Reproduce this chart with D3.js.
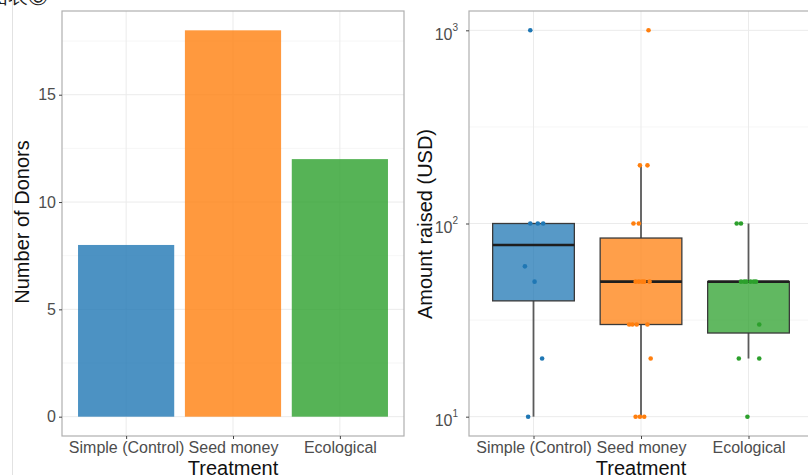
<html>
<head>
<meta charset="utf-8">
<script src="https://cdn.jsdelivr.net/npm/d3@7"></script>
<style>
  body { margin: 0; background: #fff; }
  text { font-family: "Liberation Sans", Arial, sans-serif; }
</style>
</head>
<body>
<script>
// categories + counts (left panel)
var treatments = ["Simple (Control)", "Seed money", "Ecological"];
var donors = [8, 18, 12];
var colors = ["#1f77b4", "#ff7f0e", "#2ca02c"];
var countTicks = [0, 5, 10, 15];
var countMinor = [2.5, 7.5, 12.5, 17.5];

// amounts raised per donor (right panel)
var amountSimple = [1000, 100, 100, 100, 60, 50, 20, 10];
var amountSeed = [1000, 200, 200, 100, 100, 50, 50, 50, 50, 50, 30, 30, 30, 30, 20, 10, 10, 10];
var amountEco = [100, 100, 50, 50, 50, 50, 50, 50, 30, 20, 20, 10];
// horizontal jitter of each dot, in fractions of a category step
var jitterSimple = [-0.03, -0.03, 0.04, 0.09, -0.08, 0.01, 0.08, -0.05];
var jitterSeed = [0.07, -0.01, 0.06, -0.07, -0.02, -0.05, -0.02, 0.08, 0.03, 0.01, -0.11, -0.08, -0.04, 0.06, 0.09, -0.05, -0.01, 0.03];
var jitterEco = [-0.11, -0.07, -0.07, -0.04, -0.02, 0.02, 0.05, 0.07, 0.10, -0.09, 0.10, -0.01];
var amountTicks = [10, 100, 1000];
var amountMinor = [Math.pow(10, 1.5), Math.pow(10, 2.5)];

var width = 808, height = 475;
var svg = d3.select("body").append("svg")
    .attr("width", width)
    .attr("height", height);

// screenshot leftovers: caption tail and page edge
svg.append("text").attr("x", -12).attr("y", 3).attr("font-size", 20)
    .attr("font-family", "Noto Sans CJK SC").attr("fill", "#222").text("图表⑥");
svg.append("line").attr("x1", 12.5).attr("x2", 12.5).attr("y1", 0).attr("y2", height)
    .attr("stroke", "#e2e2e2");

var gridCol = "#ebebeb", minorCol = "#f4f4f4", borderCol = "#b0b0b0", tickTxt = "#4d4d4d";
var pTop = 11, pBottom = 436;
var tickSize = 16, titleSize = 20;

// ---------- left: bar chart ----------
var lx = d3.scalePoint().domain(treatments).range([62, 404]).padding(0.6);
var ly = d3.scaleLinear().domain([-0.9, 18.9]).range([pBottom, pTop]);
var lstep = lx.step();

var gl = svg.append("g");
gl.selectAll(".minor").data(countMinor).enter().append("line")
    .attr("x1", 62).attr("x2", 404).attr("y1", d => ly(d)).attr("y2", d => ly(d))
    .attr("stroke", minorCol).attr("stroke-width", 0.8);
gl.selectAll(".major").data(countTicks).enter().append("line")
    .attr("x1", 62).attr("x2", 404).attr("y1", d => ly(d)).attr("y2", d => ly(d))
    .attr("stroke", gridCol).attr("stroke-width", 1);
gl.selectAll(".vgrid").data(treatments).enter().append("line")
    .attr("x1", d => lx(d)).attr("x2", d => lx(d)).attr("y1", pTop).attr("y2", pBottom)
    .attr("stroke", gridCol).attr("stroke-width", 1);

gl.selectAll("rect.bar").data(treatments).enter().append("rect")
    .attr("x", d => lx(d) - lstep * 0.45)
    .attr("width", lstep * 0.9)
    .attr("y", (d, i) => ly(donors[i]))
    .attr("height", (d, i) => ly(0) - ly(donors[i]))
    .attr("fill", (d, i) => colors[i])
    .attr("fill-opacity", 0.8);

gl.append("rect").attr("x", 62).attr("y", pTop).attr("width", 342).attr("height", pBottom - pTop)
    .attr("fill", "none").attr("stroke", borderCol).attr("stroke-width", 1.2);

var lyAxis = gl.append("g").attr("transform", "translate(62,0)")
    .call(d3.axisLeft(ly).tickValues(countTicks).tickSize(3).tickPadding(3));
var lxAxis = gl.append("g").attr("transform", "translate(0," + pBottom + ")")
    .call(d3.axisBottom(lx).tickSize(3).tickPadding(3));
[lyAxis, lxAxis].forEach(function (a) {
    a.select(".domain").remove();
    a.selectAll("line").attr("stroke", "#444");
    a.selectAll("text").attr("font-size", tickSize).attr("fill", tickTxt)
        .attr("font-family", "Liberation Sans, Arial, sans-serif");
});

gl.append("text").attr("transform", "translate(29,222) rotate(-90)")
    .attr("text-anchor", "middle").attr("font-size", titleSize).attr("fill", "#111")
    .text("Number of Donors");
gl.append("text").attr("x", 233).attr("y", 475).attr("text-anchor", "middle")
    .attr("font-size", titleSize).attr("fill", "#111").text("Treatment");

// ---------- right: box plot, log scale ----------
var rx = d3.scalePoint().domain(treatments).range([469, 813]).padding(0.6);
var ry = d3.scaleLog().domain([Math.pow(10, 0.9), Math.pow(10, 3.1)]).range([pBottom, pTop]);
var rstep = rx.step();
var amounts = [amountSimple, amountSeed, amountEco];
var jitters = [jitterSimple, jitterSeed, jitterEco];

var gr = svg.append("g");
gr.selectAll(".minor").data(amountMinor).enter().append("line")
    .attr("x1", 469).attr("x2", width).attr("y1", d => ry(d)).attr("y2", d => ry(d))
    .attr("stroke", minorCol).attr("stroke-width", 0.8);
gr.selectAll(".major").data(amountTicks).enter().append("line")
    .attr("x1", 469).attr("x2", width).attr("y1", d => ry(d)).attr("y2", d => ry(d))
    .attr("stroke", gridCol).attr("stroke-width", 1);
gr.selectAll(".vgrid").data(treatments).enter().append("line")
    .attr("x1", d => rx(d)).attr("x2", d => rx(d)).attr("y1", pTop).attr("y2", pBottom)
    .attr("stroke", gridCol).attr("stroke-width", 1);

// boxplot stats on log10 values, like ggplot with a log scale
var stats = amounts.map(function (vals) {
    var lg = vals.map(v => Math.log10(v)).sort(d3.ascending);
    var q1 = d3.quantile(lg, 0.25), med = d3.quantile(lg, 0.5), q3 = d3.quantile(lg, 0.75);
    var iqr = q3 - q1;
    var lo = d3.min(lg.filter(v => v >= q1 - 1.5 * iqr));
    var hi = d3.max(lg.filter(v => v <= q3 + 1.5 * iqr));
    var p = v => Math.pow(10, v);
    return { q1: p(q1), med: p(med), q3: p(q3), lo: p(lo), hi: p(hi) };
});

var boxW = rstep * 0.76;
var boxes = gr.selectAll("g.box").data(treatments).enter().append("g");
boxes.append("line")
    .attr("x1", d => rx(d)).attr("x2", d => rx(d))
    .attr("y1", (d, i) => ry(stats[i].hi)).attr("y2", (d, i) => ry(stats[i].q3))
    .attr("stroke", "#5a5a5a").attr("stroke-width", 1.8);
boxes.append("line")
    .attr("x1", d => rx(d)).attr("x2", d => rx(d))
    .attr("y1", (d, i) => ry(stats[i].q1)).attr("y2", (d, i) => ry(stats[i].lo))
    .attr("stroke", "#5a5a5a").attr("stroke-width", 1.8);
boxes.append("rect")
    .attr("x", d => rx(d) - boxW / 2).attr("width", boxW)
    .attr("y", (d, i) => ry(stats[i].q3))
    .attr("height", (d, i) => ry(stats[i].q1) - ry(stats[i].q3))
    .attr("fill", (d, i) => colors[i]).attr("fill-opacity", 0.75)
    .attr("stroke", "#3a3a3a").attr("stroke-width", 1.3);
boxes.append("line")
    .attr("x1", d => rx(d) - boxW / 2).attr("x2", d => rx(d) + boxW / 2)
    .attr("y1", (d, i) => ry(stats[i].med)).attr("y2", (d, i) => ry(stats[i].med))
    .attr("stroke", "#1e1e1e").attr("stroke-width", 2.6);

treatments.forEach(function (t, i) {
    gr.selectAll(".pt" + i).data(amounts[i]).enter().append("circle")
        .attr("cx", (d, j) => rx(t) + jitters[i][j] * rstep)
        .attr("cy", d => ry(d))
        .attr("r", 2.3)
        .attr("fill", colors[i]);
});

gr.append("rect").attr("x", 469).attr("y", pTop).attr("width", 400).attr("height", pBottom - pTop)
    .attr("fill", "none").attr("stroke", borderCol).attr("stroke-width", 1.2);

var ryAxis = gr.append("g").attr("transform", "translate(469,0)")
    .call(d3.axisLeft(ry).tickValues(amountTicks).tickSize(3).tickPadding(3).tickFormat(""));
var rxAxis = gr.append("g").attr("transform", "translate(0," + pBottom + ")")
    .call(d3.axisBottom(rx).tickSize(3).tickPadding(3));
[ryAxis, rxAxis].forEach(function (a) {
    a.select(".domain").remove();
    a.selectAll("line").attr("stroke", "#444");
    a.selectAll("text").attr("font-size", tickSize).attr("fill", tickTxt)
        .attr("font-family", "Liberation Sans, Arial, sans-serif");
});
// 10^n labels with superscript exponents
ryAxis.selectAll(".tick").each(function (d) {
    var t = d3.select(this).select("text").attr("x", -11).attr("dy", "0.55em");
    t.append("tspan").text("10");
    t.append("tspan").attr("font-size", 10).attr("dy", "-0.9em").text(Math.round(Math.log10(d)));
});

gr.append("text").attr("transform", "translate(432,224) rotate(-90)")
    .attr("text-anchor", "middle").attr("font-size", titleSize).attr("fill", "#111")
    .text("Amount raised (USD)");
gr.append("text").attr("x", 641).attr("y", 475).attr("text-anchor", "middle")
    .attr("font-size", titleSize).attr("fill", "#111").text("Treatment");
</script>
</body>
</html>
